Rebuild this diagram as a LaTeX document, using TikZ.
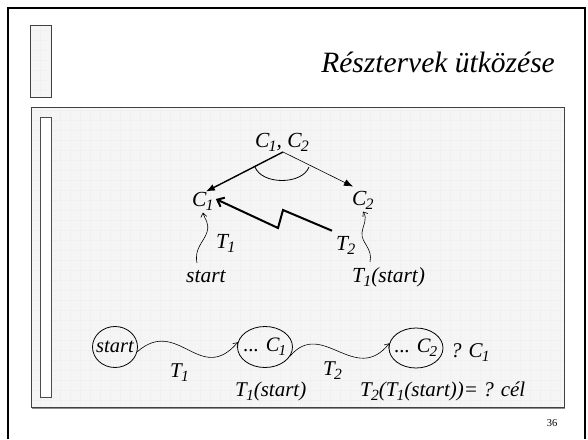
\documentclass[tikz,border=0pt]{standalone}
\usepackage{fontspec}
\setmainfont{Liberation Serif}
\usetikzlibrary{arrows.meta,shapes.geometric}

% lowered, reduced index after a letter
\newcommand\lowidx[1]{\kern-0.04em\raisebox{-0.2em}{\scalebox{0.74}{#1}}}

\tikzset{
  frame/.style={line width=2.2pt, draw=black},
  gridline/.style={draw=black!6, line width=0.4pt},
  panelborder/.style={draw=black!75, line width=0.8pt},
  lbl/.style={font=\fontsize{21.5}{25}\selectfont\itshape, inner sep=0pt, anchor=base west},
  blbl/.style={font=\fontsize{21}{25}\selectfont\itshape, inner sep=0pt, anchor=base west},
  state/.style={ellipse, draw, line width=0.8pt, inner sep=-4pt,
                font=\fontsize{20.5}{24}\selectfont\itshape},
  thickarrow/.style={line width=1.4pt, -{Latex[length=9pt,width=7pt]}},
  thinarrow/.style={line width=0.6pt, -{Latex[length=9pt,width=7pt]}},
  zigarrow/.style={line width=2pt, line join=miter, -{Straight Barb[length=6pt,width=10pt]}},
  wavy/.style={line width=0.6pt, -{Straight Barb[length=4pt,width=6pt]}},
}

\begin{document}
\begin{tikzpicture}[x=1pt,y=-1pt]
\useasboundingbox (0,0) rectangle (588,439);
\fill[white] (0,0) rectangle (588,439);

% slide frame
\draw[frame] (8,439) -- (8,8) -- (585,8) -- (585,439);

% small box beside the title
\fill[black!4] (30,25) rectangle (51,97);
\begin{scope}
  \clip (30,25) rectangle (51,97);
  \draw[gridline, step=10pt] (0,0) grid (60,110);
\end{scope}
\draw[panelborder] (30,25) rectangle (51,97);

% title
\node[anchor=base east, inner sep=0pt, font=\fontsize{29.5}{34}\selectfont\itshape]
  (title) at (555,72) {Résztervek ütközése};

% content panel
\fill[black!4] (31,107) rectangle (564,407);
\begin{scope}
  \clip (31,107) rectangle (564,407);
  \draw[gridline, step=10pt] (0,0) grid (570,410);
\end{scope}
\draw[black!45, line width=1.6pt] (32,408) -- (565,408);
\draw[panelborder] (31,107) rectangle (564,407);
\filldraw[fill=white, draw=black!70, line width=0.8pt] (40,117) rectangle (51,397);

% goal tree
\node[lbl] (c12) at (255,147) {C\lowidx{1}, C\lowidx{2}};
\coordinate (apex) at (283,152);
\node[lbl] (c1) at (192,206) {C\lowidx{1}};
\node[lbl] (c2) at (352,205) {C\lowidx{2}};
\node[lbl] (t1) at (216,248) {T\lowidx{1}};
\node[lbl] (t2) at (336,250) {T\lowidx{2}};
\node[lbl] (st) at (186,282) {start};
\node[lbl] (t1st) at (352,282) {T\lowidx{1}(start)};

\draw[thickarrow] (apex) -- ([xshift=3pt]c1.north);
\draw[thinarrow] (apex) -- ([xshift=1pt,yshift=4pt]c2.north west);
\draw[line width=0.8pt] (255,167) .. controls (262,185) and (302,185) .. (309,167);

\draw[zigarrow] ([shift={(-4,-5)}]t2.north west) -- (283,210) -- (278,228)
  -- ([xshift=2pt,yshift=2pt]c1.east);

\coordinate (w1) at (197,263);
\coordinate (w2) at (370,262);
\draw[wavy] (w1) .. controls (194,248) and (204,242) .. (207,232)
  .. controls (210,223) and (204,218) .. ([yshift=-2pt]c1.south);
\draw[wavy] (w2) .. controls (373,248) and (361,243) .. (362,233)
  .. controls (363,224) and (368,219) .. ([yshift=-2pt]c2.south);

% state sequence
\node[state, minimum width=45pt, minimum height=41pt] (s0) at (115,347) {start};
\node[state, minimum width=55pt, minimum height=41pt] (s1) at (265,347) {... C\lowidx{1}};
\node[state, minimum width=54pt, minimum height=40pt] (s2) at (416,348) {... C\lowidx{2}};

\draw[wavy] (s0.-12) .. controls (178,316) and (200,386) .. (s1.170);
\draw[wavy] (s1.-20) .. controls (322,318) and (355,386) .. (s2.170);

\node[blbl] (bt1) at (170,377) {T\lowidx{1}};
\node[blbl] (bt2) at (323,375) {T\lowidx{2}};
\node[blbl] (q) at (451,357) {? C\lowidx{1}};
\node[blbl] (r1) at (235,396) {T\lowidx{1}(start)};
\node[blbl] (r2) at (360,396) {T\lowidx{2}(T\lowidx{1}(start))= ? cél};

% page number
\node[inner sep=0pt, font=\fontsize{10.5}{12}\selectfont] (pg) at (552,423) {36};
\end{tikzpicture}
\end{document}
